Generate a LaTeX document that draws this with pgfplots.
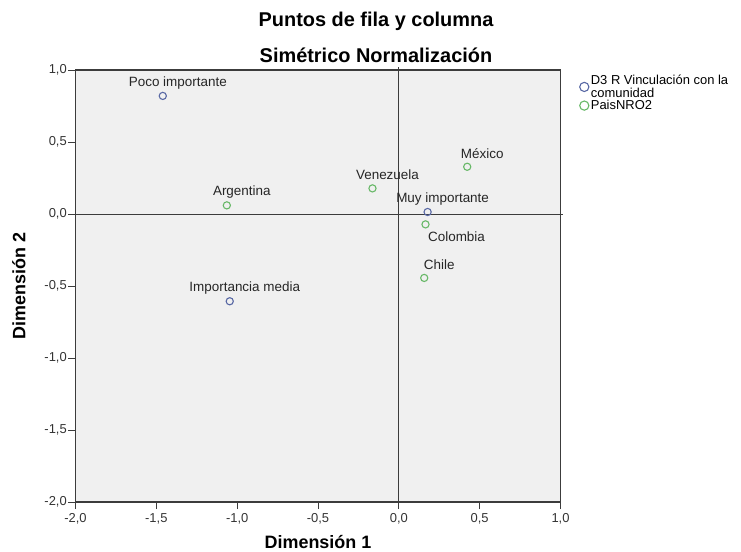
\documentclass[border=0pt]{standalone}
\usepackage{fontspec}
\setmainfont{Liberation Sans}
\usepackage{pgfplots}
\usepackage{pgfplotstable}
\pgfplotsset{compat=1.18}

\definecolor{ptblue}{RGB}{88,104,164}
\definecolor{ptgreen}{RGB}{104,184,104}
\definecolor{plotbg}{RGB}{240,240,240}
\definecolor{framec}{RGB}{60,60,60}

% D3 R Vinculacion con la comunidad (filas)
\pgfplotstableread{
x y label
-1.460 0.820 {Poco importante}
-1.046 -0.606 {Importancia media}
0.178 0.014 {Muy importante}
}\filas

% PaisNRO2 (columnas), etiqueta encima
\pgfplotstableread{
x y label
-1.064 0.060 {Argentina}
-0.163 0.178 {Venezuela}
0.423 0.328 {México}
0.157 -0.444 {Chile}
}\columnas

% PaisNRO2, etiqueta debajo
\pgfplotstableread{
x y label
0.165 -0.072 {Colombia}
}\columnasb

\begin{document}
\begin{tikzpicture}
\useasboundingbox (0bp,0bp) rectangle (741bp,-552bp);
\node[font=\bfseries\fontsize{20}{24}\selectfont] at (376bp,-21bp) {Puntos de fila y columna};
\node[font=\bfseries\fontsize{20}{24}\selectfont] at (376bp,-55bp) {Simétrico Normalización};
\begin{axis}[
    at={(75.5bp,-70bp)}, anchor=north west,
    scale only axis, width=485bp, height=432bp,
    xmin=-2, xmax=1, ymin=-2, ymax=1,
    xtick={-2,-1.5,...,1}, ytick={-2,-1.5,...,1},
    axis background/.style={fill=plotbg},
    axis line style={framec, line width=1.2bp},
    tick style={framec, line width=1bp},
    tick align=outside, tick pos=left, major tick length=7bp,
    ticklabel style={font=\fontsize{13}{15}\selectfont, text=black!80, inner sep=1.5bp},
    xticklabel style={yshift=-3bp},
    /pgf/number format/.cd, fixed, fixed zerofill, precision=1, use comma, assume math mode=true,
    /pgfplots/.cd,
    xlabel={Dimensión 1}, ylabel={Dimensión 2},
    every axis x label/.style={at={(axis description cs:0.5,-0.0915)}, anchor=center, font=\bfseries\fontsize{18}{20}\selectfont},
    every axis y label/.style={at={(axis description cs:-0.1165,0.5)}, rotate=90, anchor=center, font=\bfseries\fontsize{18}{20}\selectfont},
    clip=false,
    legend style={at={(1,1)}, anchor=north west, xshift=19bp, yshift=-3bp, draw=none, fill=none,
      font=\fontsize{13}{12.5}\selectfont, cells={anchor=west, align=left}, inner sep=0bp, row sep=-2.5bp},
    legend image code/.code={\draw[#1, mark size=4.6bp] plot coordinates {(4bp,0bp)};},
    point meta=explicit symbolic,
    every node near coord/.append style={anchor=center,
      font=\fontsize{13.5}{15}\selectfont, text=black!85, inner sep=0bp},
  ]
\draw[framec, line width=1bp] (axis cs:-2,0) -- (axis cs:1.015,0);
\draw[framec, line width=1bp] (axis cs:0,-2) -- (axis cs:0,1.02);
\addplot[only marks, mark=o, mark size=3.6bp, ptblue, line width=1.1bp,
  nodes near coords, nodes near coords style={xshift=15bp, yshift=13bp}]
  table[x=x, y=y, meta=label] {\filas};
\addlegendentry{D3 R Vinculación con la\\comunidad}
\addplot[only marks, mark=o, mark size=3.6bp, ptgreen, line width=1.1bp,
  nodes near coords, nodes near coords style={xshift=15bp, yshift=13.5bp}]
  table[x=x, y=y, meta=label] {\columnas};
\addlegendentry{PaisNRO2}
\addplot[only marks, mark=o, mark size=3.6bp, ptgreen, line width=1.1bp, forget plot,
  nodes near coords, nodes near coords style={xshift=31bp, yshift=-12bp}]
  table[x=x, y=y, meta=label] {\columnasb};
\end{axis}
\end{tikzpicture}
\end{document}
